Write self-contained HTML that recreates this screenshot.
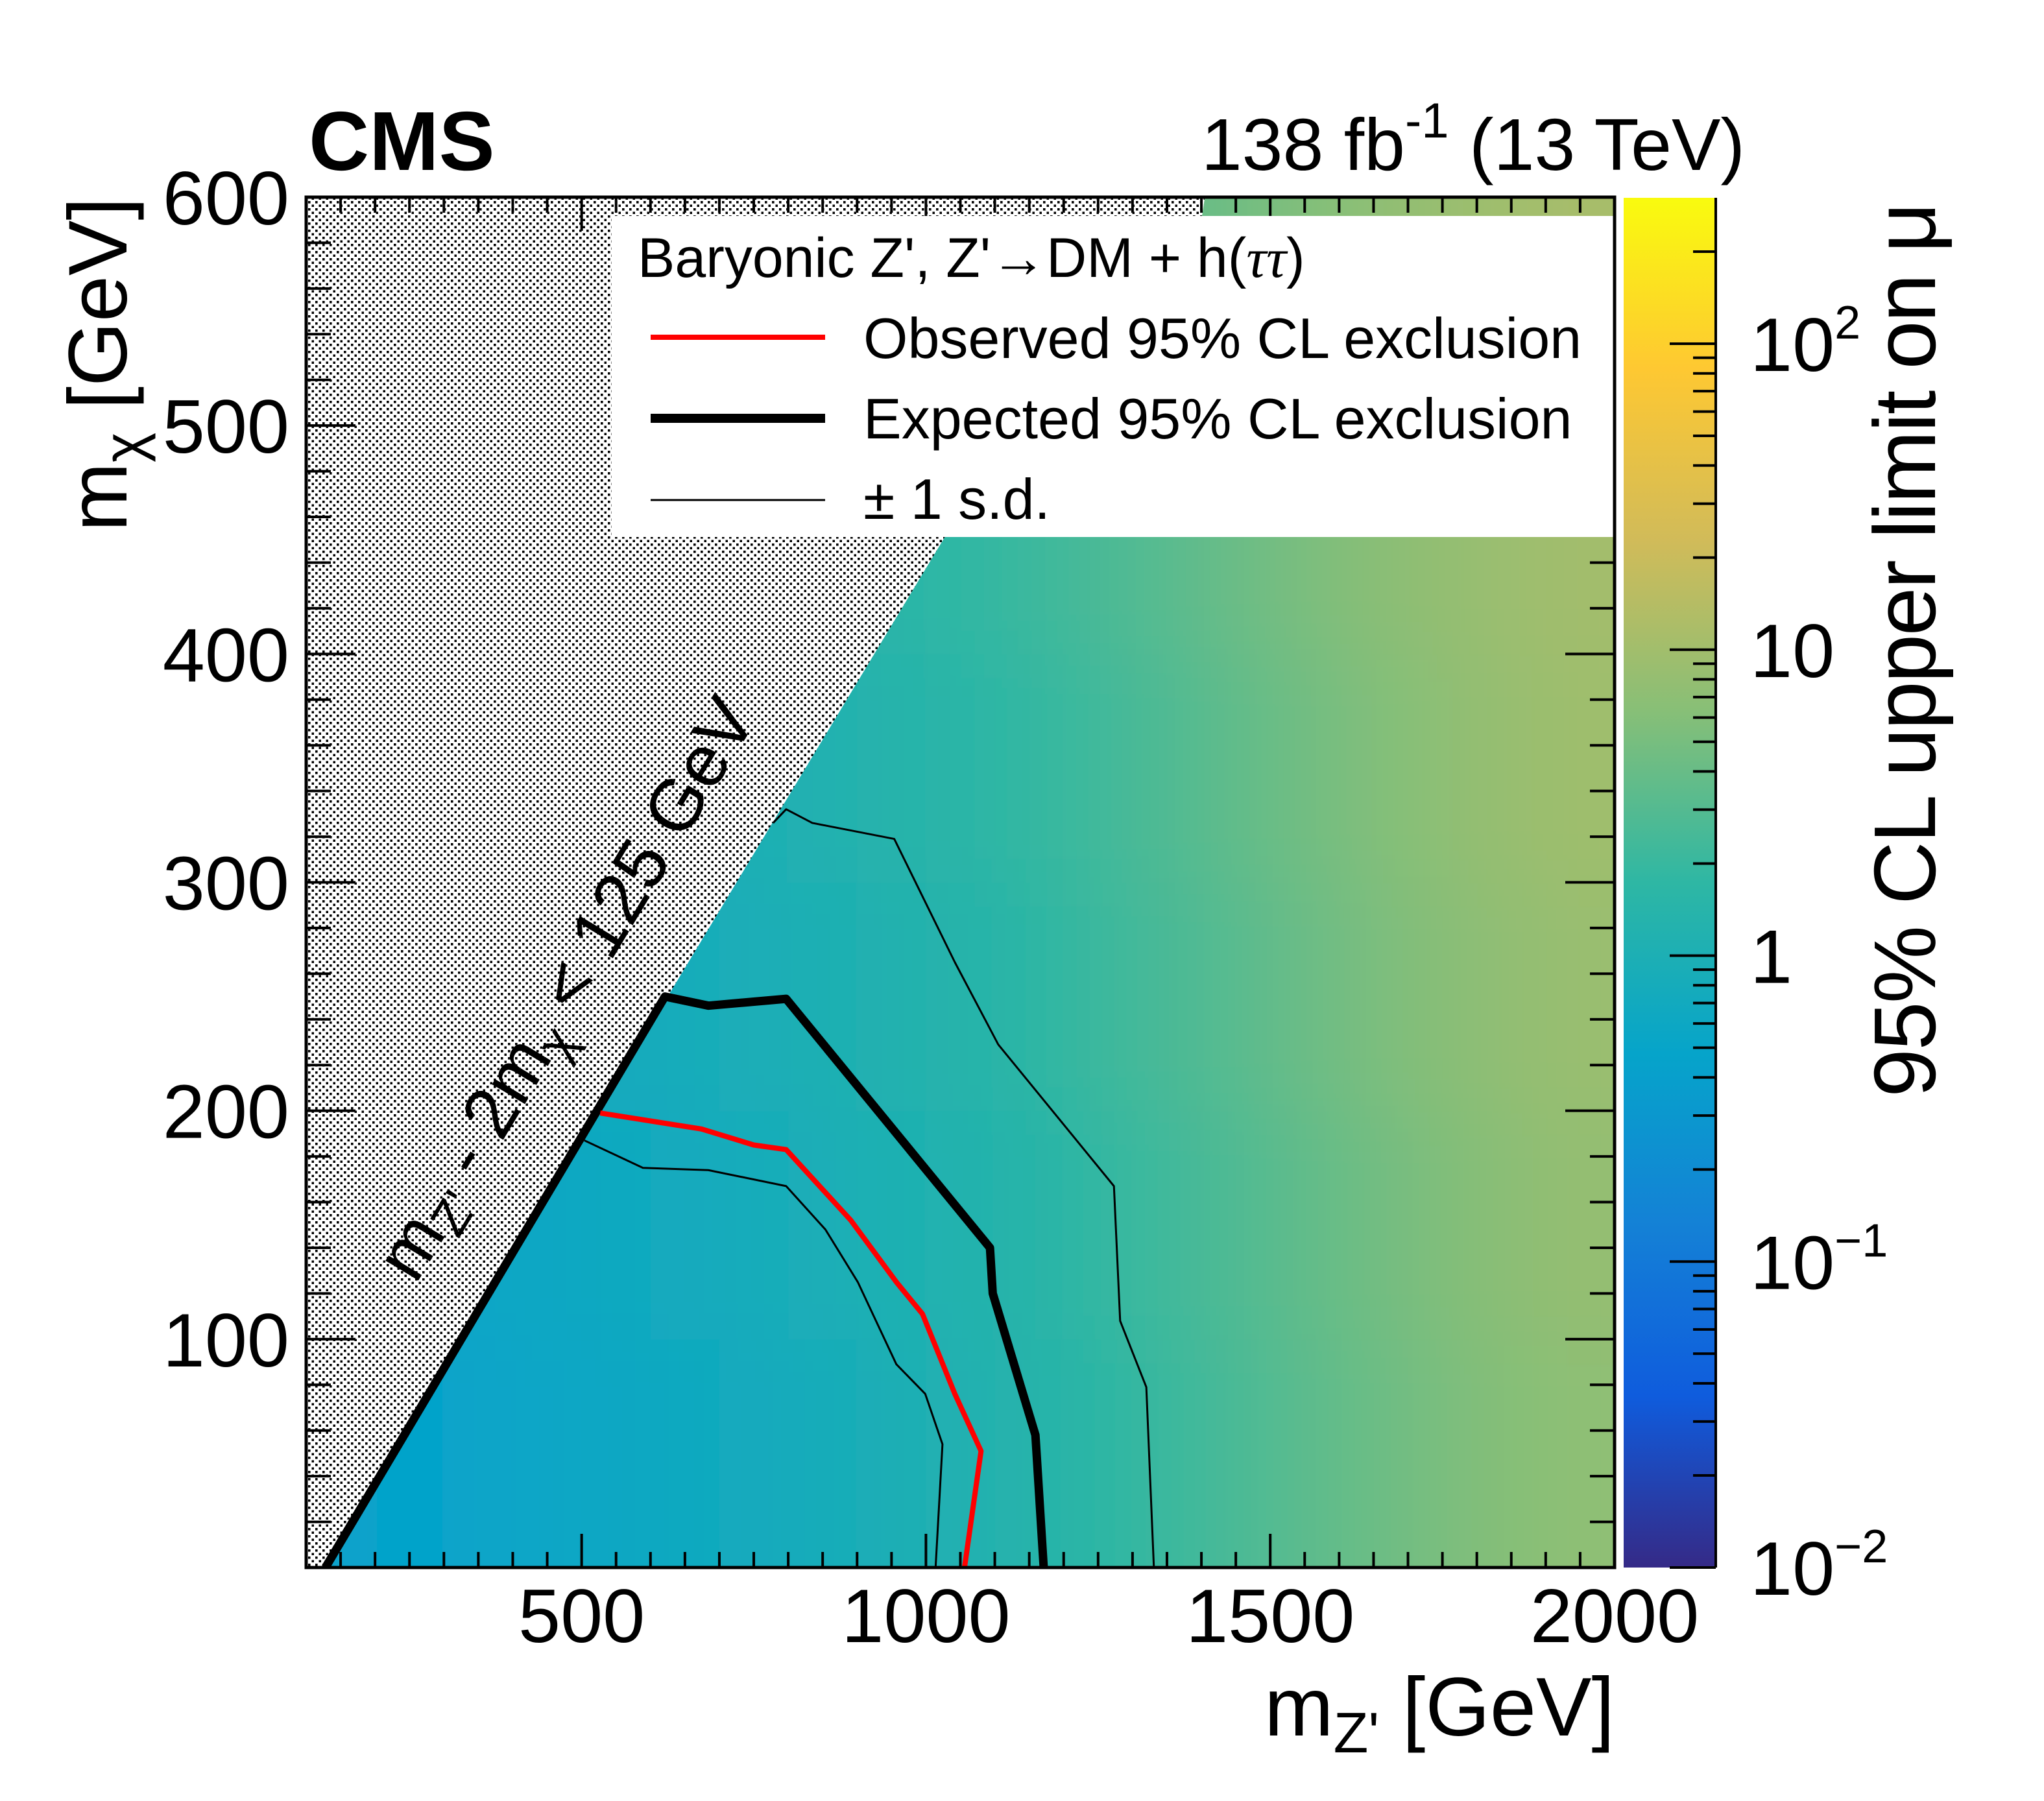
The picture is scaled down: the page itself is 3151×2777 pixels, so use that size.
<!DOCTYPE html>
<html><head><meta charset="utf-8">
<style>
html,body{margin:0;padding:0;background:#fff;}
svg{display:block;font-family:"Liberation Sans",sans-serif;}
</style></head>
<body>
<svg id="chart" xmlns="http://www.w3.org/2000/svg" width="3151" height="2777" viewBox="0 0 3151 2777">
<defs>
  <pattern id="dots" width="11" height="11" patternUnits="userSpaceOnUse">
    <rect x="2" y="2" width="3.6" height="3.6" fill="#000"/>
    <rect x="7.5" y="7.5" width="3.6" height="3.6" fill="#000"/>
  </pattern>
  <linearGradient id="pal" x1="0" y1="1" x2="0" y2="0">
    <stop offset="0" stop-color="rgb(53,42,135)"/>
    <stop offset="0.125" stop-color="rgb(15,92,221)"/>
    <stop offset="0.25" stop-color="rgb(20,129,214)"/>
    <stop offset="0.375" stop-color="rgb(6,164,202)"/>
    <stop offset="0.5" stop-color="rgb(46,183,164)"/>
    <stop offset="0.625" stop-color="rgb(135,191,119)"/>
    <stop offset="0.75" stop-color="rgb(209,187,89)"/>
    <stop offset="0.875" stop-color="rgb(254,200,50)"/>
    <stop offset="1" stop-color="rgb(249,251,14)"/>
  </linearGradient>
  <clipPath id="plotclip"><rect x="472" y="304" width="2017" height="2113"/></clipPath>
  <clipPath id="heatclip"><polygon id="heatpoly" points=""/></clipPath>
  <filter id="smooth" x="-10%" y="-10%" width="120%" height="120%"><feGaussianBlur stdDeviation="55"/></filter>
</defs>
<rect x="472" y="304" width="2017" height="2113" fill="#fff"/>
<rect x="472" y="304" width="2017" height="2113" fill="url(#dots)"/>
<g clip-path="url(#heatclip)"><g id="heat" filter="url(#smooth)"></g></g>
<g id="contours" clip-path="url(#plotclip)"></g>
<g id="axes"></g>

<text x="641" y="1981" font-size="112" transform="rotate(-58.9 641 1981)"><tspan x="641" y="1981">m</tspan><tspan font-size="78" dy="20">Z'</tspan><tspan dy="-20"> - 2m</tspan><tspan font-size="78" dy="20">χ</tspan><tspan dy="-20"> &lt; 125 GeV</tspan></text>

<g>
  <rect x="943" y="333" width="1546" height="495" fill="#fff"/>
  <text x="983" y="427" font-size="86">Baryonic Z', Z'→DM + h(<tspan font-family="'Liberation Serif',serif" font-style="italic">ττ</tspan>)</text>
  <line x1="1003" y1="520" x2="1272" y2="520" stroke="#ff0000" stroke-width="8"/>
  <text x="1331" y="552" font-size="88">Observed 95% CL exclusion</text>
  <line x1="1003" y1="645" x2="1272" y2="645" stroke="#000" stroke-width="14"/>
  <text x="1331" y="676" font-size="88">Expected 95% CL exclusion</text>
  <line x1="1003" y1="771" x2="1272" y2="771" stroke="#000" stroke-width="3"/>
  <text x="1331" y="800" font-size="88">± 1 s.d.</text>
</g>

<rect x="472" y="304" width="2017" height="2113" fill="none" stroke="#000" stroke-width="5"/>

<rect x="2503" y="305" width="142" height="2112" fill="url(#pal)"/>
<line x1="2645" y1="305" x2="2645" y2="2417" stroke="#000" stroke-width="4"/>
<g id="palaxis"></g>

<text x="476" y="262" font-size="129" font-weight="bold">CMS</text>
<text x="2690" y="262" font-size="113" text-anchor="end">138 fb<tspan font-size="76" dy="-50">-1</tspan><tspan dy="50"> (13 TeV)</tspan></text>
<text x="2489" y="2676" font-size="128" text-anchor="end">m<tspan font-size="88" dy="26">Z'</tspan><tspan dy="-26"> [GeV]</tspan></text>
<text transform="translate(195,304) rotate(-90)" x="0" y="0" font-size="128" text-anchor="end">m<tspan font-size="88" dy="26">χ</tspan><tspan dy="-26"> [GeV]</tspan></text>
<text transform="translate(2983,312) rotate(-90)" x="0" y="0" font-size="135" text-anchor="end" textLength="1380">95% CL upper limit on μ</text>
</svg>

<script>
// ---- data ----
const xBinCenters = [150,250,350,450,550,650,750,850,950,1050,1150,1250,1350,1450,1550,1650,1750,1850,1950];
const yBinCenters = [50,150,250,350,450,550];
const limitRow50  = [0.44,0.46,0.50,0.55,0.60,0.66,0.74,0.84,0.96,1.10,1.35,1.65,2.05,2.60,3.30,4.20,5.20,6.20,7.20];
const limitRow150 = [0.48,0.50,0.55,0.60,0.66,0.72,0.81,0.92,1.06,1.22,1.45,1.80,2.25,2.85,3.60,4.60,5.70,6.80,7.90];
const limitRow250 = [0.54,0.56,0.61,0.67,0.74,0.81,0.91,1.04,1.18,1.36,1.65,2.05,2.55,3.20,4.10,5.20,6.40,7.60,8.80];
const limitRow350 = [0.60,0.62,0.68,0.75,0.82,0.90,1.00,1.15,1.35,1.55,1.85,2.25,2.85,3.60,4.60,5.80,7.10,8.40,9.60];
const limitRow450 = [0.68,0.71,0.77,0.85,0.93,1.02,1.15,1.30,1.50,1.75,2.05,2.55,3.20,4.10,5.20,6.50,7.80,9.00,10.2];
const limitRow550 = [0.76,0.79,0.86,0.95,1.05,1.15,1.30,1.45,1.70,1.95,2.35,2.85,3.60,4.60,5.80,7.20,8.50,9.80,11.0];
const limitRows = [limitRow50,limitRow150,limitRow250,limitRow350,limitRow450,limitRow550];

const allowedBoundaryX = [125,2000,2000,1405,1400,1305];
const allowedBoundaryY = [0,0,600,600,590,590];

const expectedX = [128,621,684,797,1093,1097,1159,1171];
const expectedY = [0,250,246,249,140,120,58,0];
const observedX = [527,674,750,797,891,957,995,1042,1080,1056];
const observedY = [199,192,185,183,152,125,111,76,51,0];
const minus1sdX = [504,589,684,797,854,901,957,999,1024,1014];
const minus1sdY = [187,175,174,167,148,125,89,76,54,0];
const plus1sdX  = [778,797,835,954,1042,1105,1273,1282,1320,1331];
const plus1sdY  = [326,332,326,319,265,229,167,108,79,0];

const xMajorTicks = [500,1000,1500,2000];
const xTickLabels = ["500","1000","1500","2000"];
const yMajorTicks = [100,200,300,400,500,600];
const yTickLabels = ["100","200","300","400","500","600"];
const palDecades = [-2,-1,0,1,2];
const palLabelBase = ["10","10","1","10","10"];
const palLabelExp = ["−2","−1","","","2"];

// ---- axes ----
const X0=472, X1=2489, Y0=2417, Y1=304;
function X(v){return X0+(v-100)/1900*(X1-X0);}
function Y(v){return Y0-v/600*(Y0-Y1);}
const PLMIN=-2, PLMAX=2.477;
function P(v){return Y0-(Math.log10(v)-PLMIN)/(PLMAX-PLMIN)*(Y0-305);}

const NS="http://www.w3.org/2000/svg";
function mk(tag,attrs,parent){const e=document.createElementNS(NS,tag);for(const k in attrs)e.setAttribute(k,attrs[k]);parent.appendChild(e);return e;}

const stopsF=[0,0.125,0.25,0.375,0.5,0.625,0.75,0.875,1];
const stopsC=[[53,42,135],[15,92,221],[20,129,214],[6,164,202],[46,183,164],[135,191,119],[209,187,89],[254,200,50],[249,251,14]];
function color(v){
  let f=(Math.log10(v)-PLMIN)/(PLMAX-PLMIN); f=Math.max(0,Math.min(1,f));
  let i=0; while(i < stopsF.length-2 && f > stopsF[i+1]) i++;
  const t=(f-stopsF[i])/(stopsF[i+1]-stopsF[i]);
  const c=stopsC[i].map((a,k)=>Math.round(a+(stopsC[i+1][k]-a)*t));
  return 'rgb('+c[0]+','+c[1]+','+c[2]+')';
}

document.getElementById('heatpoly').setAttribute('points', allowedBoundaryX.map((x,i)=>X(x)+','+Y(allowedBoundaryY[i])).join(' '));

const heat=document.getElementById('heat');
yBinCenters.forEach((yc,r)=>{
  xBinCenters.forEach((xc,c)=>{
    let xa=X(xc-50), xb=X(xc+50), ya=Y(yc+50), yb=Y(yc-50);
    if(c===0) xa-=200;
    if(c===xBinCenters.length-1) xb+=200;
    if(r===0) yb+=200;
    if(r===yBinCenters.length-1) ya-=200;
    const cell=mk('rect',{x:xa,y:ya,width:xb-xa+1,height:yb-ya+1,fill:color(limitRows[r][c])},heat);
    
    
  });
});

const cg=document.getElementById('contours');
function poly(xs,ys,stroke,w,name){
  const p=mk('polyline',{points:xs.map((x,i)=>X(x)+','+Y(ys[i])).join(' '),fill:'none',stroke:stroke,'stroke-width':w,'stroke-linejoin':'round'},cg);
  
  
}
poly(plus1sdX,plus1sdY,'#000',3,'plus-1sd-contour');
poly(minus1sdX,minus1sdY,'#000',3,'minus-1sd-contour');
poly(expectedX,expectedY,'#000',13,'expected-contour');
poly(observedX,observedY,'#ff0000',8,'observed-contour');

const ag=document.getElementById('axes');
for(let v=150; v < 2000; v+=50){
  const major = v%500===0; const L = major?52:24;
  mk('line',{x1:X(v),y1:Y0,x2:X(v),y2:Y0-L,stroke:'#000','stroke-width':4},ag);
  mk('line',{x1:X(v),y1:Y1,x2:X(v),y2:Y1+L,stroke:'#000','stroke-width':4},ag);
}
for(let v=20; v < 600; v+=20){
  const major = v%100===0; const L = major?76:38;
  mk('line',{x1:X0,y1:Y(v),x2:X0+L,y2:Y(v),stroke:'#000','stroke-width':4},ag);
  mk('line',{x1:X1,y1:Y(v),x2:X1-L,y2:Y(v),stroke:'#000','stroke-width':4},ag);
}
xMajorTicks.forEach((v,i)=>{
  const t=mk('text',{x:X(v),y:2532,'font-size':117,'text-anchor':'middle'},ag);
  t.textContent=xTickLabels[i];
  
  
});
yMajorTicks.forEach((v,i)=>{
  const t=mk('text',{x:446,y:Y(v)+42,'font-size':117,'text-anchor':'end'},ag);
  t.textContent=yTickLabels[i];
  
  
});

const pg=document.getElementById('palaxis');
for(let d=-2; d <= 2; d++){
  for(let m=1; m <= 9; m++){
    const v=m*Math.pow(10,d);
    if(Math.log10(v) > PLMAX) break;
    const L = m===1?71:35;
    mk('line',{x1:2645,y1:P(v),x2:2645-L,y2:P(v),stroke:'#000','stroke-width':4},pg);
  }
}
palDecades.forEach((d,i)=>{
  const y=P(Math.pow(10,d));
  const t=mk('text',{x:2698,y:y+42,'font-size':117},pg);
  t.textContent=palLabelBase[i];
  if(palLabelExp[i]){
    const s=mk('tspan',{'font-size':72,dy:-50},t);
    s.textContent=palLabelExp[i];
  }
  
  
});
</script>
</body></html>
